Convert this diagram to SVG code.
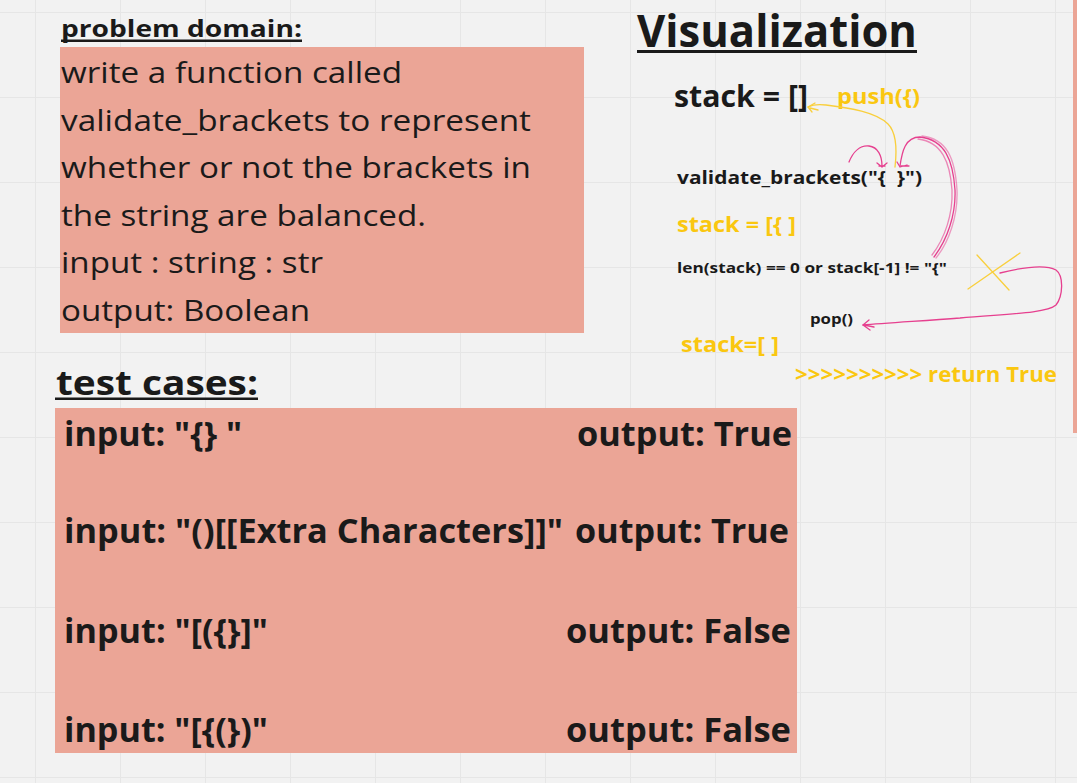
<svg xmlns="http://www.w3.org/2000/svg" width="1077" height="783" viewBox="0 0 1077 783">
<defs>
<pattern id="grid" x="35" y="12" width="85" height="85" patternUnits="userSpaceOnUse">
<path d="M0 0H85M0 0V85" fill="none" stroke="#e6e6e6" stroke-width="2"/>
</pattern>
<style>
.t{font-family:"Open Sans","Noto Sans","Liberation Sans",sans-serif;fill:#1a1a1a}
.b{font-weight:700}
.y{fill:#fac710}
.box{fill:#eba596}
.pk{fill:none;stroke:#e6408f;stroke-width:1.3;stroke-linecap:round;stroke-linejoin:round}
.yl{fill:none;stroke:#f9cf3c;stroke-width:1.3;stroke-linecap:round}
</style>
</defs>
<rect width="1077" height="783" fill="#f2f2f2"/>
<rect width="1077" height="783" fill="url(#grid)"/>
<rect x="1073" y="0" width="4" height="433" fill="#eba596"/>

<g id="problem-domain">
<text class="t b" x="61" y="37" font-size="23" textLength="241" lengthAdjust="spacingAndGlyphs">problem domain:</text>
<rect x="61" y="39.5" width="241" height="2.5" fill="#1a1a1a"/>
<rect class="box" x="60" y="47" width="524" height="286"/>
<g class="t" font-size="30">
<text x="61" y="83" textLength="341" lengthAdjust="spacingAndGlyphs">write a function called</text>
<text x="61" y="130.5" textLength="470" lengthAdjust="spacingAndGlyphs">validate_brackets to represent</text>
<text x="61" y="178" textLength="470" lengthAdjust="spacingAndGlyphs">whether or not the brackets in</text>
<text x="61" y="225.5" textLength="365" lengthAdjust="spacingAndGlyphs">the string are balanced.</text>
<text x="61" y="273" textLength="262" lengthAdjust="spacingAndGlyphs">input : string : str</text>
<text x="61" y="320.5" textLength="249" lengthAdjust="spacingAndGlyphs">output: Boolean</text>
</g>
</g>

<g id="test-cases">
<text class="t b" x="56" y="395" font-size="34" textLength="202" lengthAdjust="spacingAndGlyphs">test cases:</text>
<rect x="55" y="397.5" width="203" height="2.5" fill="#1a1a1a"/>
<rect class="box" x="55" y="408" width="742" height="345"/>
<g class="t b" font-size="34">
<text x="64" y="446" textLength="178" lengthAdjust="spacingAndGlyphs">input: "{} "</text>
<text x="792" y="446" text-anchor="end" textLength="215" lengthAdjust="spacingAndGlyphs">output: True</text>
<text x="64" y="543" textLength="499" lengthAdjust="spacingAndGlyphs">input: "()[[Extra Characters]]"</text>
<text x="789" y="543" text-anchor="end" textLength="214" lengthAdjust="spacingAndGlyphs">output: True</text>
<text x="64" y="643" textLength="204" lengthAdjust="spacingAndGlyphs">input: "[({}]"</text>
<text x="791" y="643" text-anchor="end" textLength="225" lengthAdjust="spacingAndGlyphs">output: False</text>
<text x="64" y="742" textLength="204" lengthAdjust="spacingAndGlyphs">input: "[{(})"</text>
<text x="791" y="742" text-anchor="end" textLength="225" lengthAdjust="spacingAndGlyphs">output: False</text>
</g>
</g>

<g id="visualization">
<text class="t b" x="637" y="47" font-size="44" textLength="280" lengthAdjust="spacingAndGlyphs">Visualization</text>
<rect x="637" y="50" width="280" height="3" fill="#1a1a1a"/>
</g>
<g id="stack-empty"><text class="t b" x="674" y="107" font-size="30" textLength="134" lengthAdjust="spacingAndGlyphs">stack = []</text></g>
<g id="push"><text class="t b y" x="837" y="104" font-size="21" textLength="83" lengthAdjust="spacingAndGlyphs">push({)</text></g>
<g id="validate-call"><text class="t b" x="677" y="184" font-size="17.5" textLength="245" lengthAdjust="spacingAndGlyphs" xml:space="preserve">validate_brackets("{  }")</text></g>
<g id="stack-open"><text class="t b y" x="677" y="232" font-size="22" textLength="119" lengthAdjust="spacingAndGlyphs">stack = [{ ]</text></g>
<g id="condition"><text class="t b" x="677" y="273" font-size="13.5" textLength="270" lengthAdjust="spacingAndGlyphs">len(stack) == 0 or stack[-1] != "{"</text></g>
<g id="pop"><text class="t b" x="810" y="324" font-size="13.5" textLength="43" lengthAdjust="spacingAndGlyphs">pop()</text></g>
<g id="stack-final"><text class="t b y" x="681" y="352" font-size="21" textLength="98" lengthAdjust="spacingAndGlyphs">stack=[ ]</text></g>
<g id="return"><text class="t b y" x="795" y="382" font-size="21" textLength="262" lengthAdjust="spacingAndGlyphs">&gt;&gt;&gt;&gt;&gt;&gt;&gt;&gt;&gt;&gt; return True</text></g>

<g id="connectors">
<path class="yl" d="M895 167 C897 150 896 132 888 124 C876 112 850 108 826 105 C818 104 812 105 808 107"/>
<path class="yl" d="M808 107 L815 103 M808 107 L812 112 M810 108 L818 110"/>
<path class="pk" d="M849 162 C853 152 860 145 869 146 C878 147 882 156 882 166"/>
<path class="pk" d="M882 167 L877 163 M882 167 L887 163 M879 166 L885 166"/>
<path class="pk" d="M934 257 C947 240 956 215 955 190 C953 160 945 140 920 137 C905 137 902 152 900 166"/>
<path class="pk" d="M932 255 C945 238 953 214 952 190 C950 162 942 142 918 139" opacity="0.6"/>
<path class="pk" d="M936 258 C949 242 958 216 957 190 C955 158 947 139 922 136" opacity="0.5"/>
<path class="pk" d="M900 167 L897 162 M900 167 L907 165 M901 166 L909 166"/>
<path class="yl" d="M977 255 L1009 290 M1020 253 L968 289"/>
<path class="pk" d="M1000 273 C1020 268 1045 264 1056 270 C1064 276 1063 296 1056 305 C1046 314 1000 314 960 318 C920 321 885 323 863 325"/>
<path class="pk" d="M863 325 L869 320 M863 325 L870 330 M864 325 L874 327" stroke-width="2"/>
</g>
</svg>
